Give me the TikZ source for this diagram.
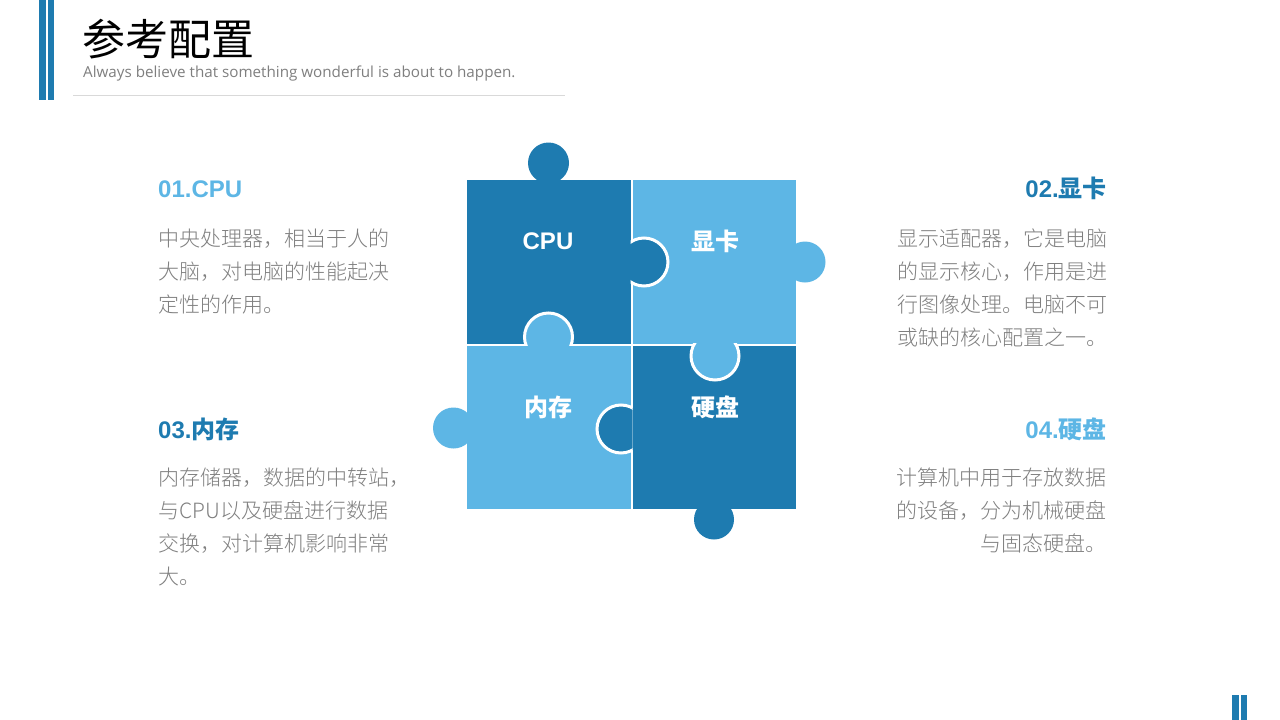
\documentclass[tikz,border=0pt]{standalone}
\usepackage{fontspec}
\newfontfamily\cjk{Noto Sans CJK SC}
\newfontfamily\cjklight{Noto Sans CJK SC Light}
\newfontfamily\arial{Liberation Sans}
\newfontfamily\opensans{Open Sans}
\definecolor{deepblue}{HTML}{1E7BB0}
\definecolor{skyblue}{HTML}{5DB6E5}
\definecolor{bodygray}{HTML}{7F7F7F}
\definecolor{rulegray}{HTML}{D9D9D9}

\begin{document}
\begin{tikzpicture}[x=1pt,y=-1pt,
  bodyline/.style={anchor=base west,inner sep=0pt,text=bodygray,
    font=\cjklight\fontsize{21}{26}\selectfont},
  bodyright/.style={bodyline,anchor=base east},
  heading/.style={inner sep=0pt,font=\fontsize{24}{28}\selectfont\bfseries},
  piecelabel/.style={inner sep=0pt,text=white,font=\fontsize{24}{28}\selectfont\bfseries},
  innerknob/.style={draw=white,line width=3pt},
]
\useasboundingbox[fill=white] (0,0) rectangle (1280,720);

% corner bars
\fill[deepblue] (39,0) rectangle (45.5,100);
\fill[deepblue] (47.7,0) rectangle (54,100);
\fill[deepblue] (1232,695) rectangle (1238.5,720);
\fill[deepblue] (1240.5,695) rectangle (1247,720);

% header
\node[anchor=base west,inner sep=0pt,font=\cjk\fontsize{43}{48}\selectfont] (title) at (82,55) {参考配置};
\node[anchor=base west,inner sep=0pt,text=bodygray,font=\opensans\fontsize{15.2}{18}\selectfont] (subtitle) at (83,77) {Always believe that something wonderful is about to happen.};
\draw[rulegray,line width=1pt] (73,95.5) -- (565,95.5);

% puzzle squares
\fill[deepblue] (467,180) rectangle (630.5,343.5);
\fill[skyblue] (632.5,180) rectangle (796,343.5);
\fill[skyblue] (467,345.5) rectangle (630.5,509);
\fill[deepblue] (632.5,345.5) rectangle (796,509);

% outer knobs
\fill[deepblue] (548.5,163) circle[radius=20.5pt];
\fill[skyblue] (805,262) circle[radius=20.5pt];
\fill[skyblue] (453.5,428) circle[radius=20.5pt];
\fill[deepblue] (714,519.5) circle[radius=20pt];

% inner knobs, each clipped to the piece it bites into
\begin{scope}
  \clip (630.5,180) rectangle (800,343.5);
  \filldraw[innerknob,fill=deepblue] (644,262) circle[radius=24pt];
\end{scope}
\begin{scope}
  \clip (467,180) rectangle (630.5,345.5);
  \filldraw[innerknob,fill=skyblue] (548.5,337) circle[radius=24pt];
\end{scope}
\begin{scope}
  \clip (632.5,343.5) rectangle (796,509);
  \filldraw[innerknob,fill=skyblue] (715,356) circle[radius=24pt];
\end{scope}
\begin{scope}
  \clip (467,345.5) rectangle (632.5,509);
  \filldraw[innerknob,fill=deepblue] (621,429) circle[radius=24pt];
\end{scope}

% piece labels
\node[piecelabel,font=\arial\fontsize{24}{28}\selectfont\bfseries] (lcpu) at (548,241) {CPU};
\node[piecelabel,font=\cjk\fontsize{24}{28}\selectfont\bfseries] (lgpu) at (715,241) {显卡};
\node[piecelabel,font=\cjk\fontsize{24}{28}\selectfont\bfseries] (lram) at (548,407) {内存};
\node[piecelabel,font=\cjk\fontsize{24}{28}\selectfont\bfseries] (lhdd) at (715,407) {硬盘};

% 01 CPU
\node[heading,anchor=base west,text=skyblue] (h1) at (158,197) {\arial 01.CPU};
\node[bodyline] (a1) at (158,246) {中央处理器，相当于人的};
\node[bodyline] (a2) at (158,279) {大脑，对电脑的性能起决};
\node[bodyline] (a3) at (158,312) {定性的作用。};

% 03 memory
\node[heading,anchor=base west,text=deepblue] (h3) at (158,438) {{\arial 03.}{\cjk 内存}};
\node[bodyline] (c1) at (158,485) {内存储器，数据的中转站，};
\node[bodyline] (c2) at (158,518) {与CPU以及硬盘进行数据};
\node[bodyline] (c3) at (158,551) {交换，对计算机影响非常};
\node[bodyline] (c4) at (158,584) {大。};

% 02 graphics card
\node[heading,anchor=base east,text=deepblue] (h2) at (1107,197) {{\arial 02.}{\cjk 显卡}};
\node[bodyline] (b1) at (897,246) {显示适配器，它是电脑};
\node[bodyline] (b2) at (897,279) {的显示核心，作用是进};
\node[bodyline] (b3) at (897,312) {行图像处理。电脑不可};
\node[bodyline] (b4) at (897,345) {或缺的核心配置之一。};

% 04 hard disk
\node[heading,anchor=base east,text=skyblue] (h4) at (1107,438) {{\arial 04.}{\cjk 硬盘}};
\node[bodyright] (d1) at (1107,485) {计算机中用于存放数据};
\node[bodyright] (d2) at (1107,518) {的设备，分为机械硬盘};
\node[bodyright] (d3) at (1107,551) {与固态硬盘。};
\end{tikzpicture}
\end{document}
